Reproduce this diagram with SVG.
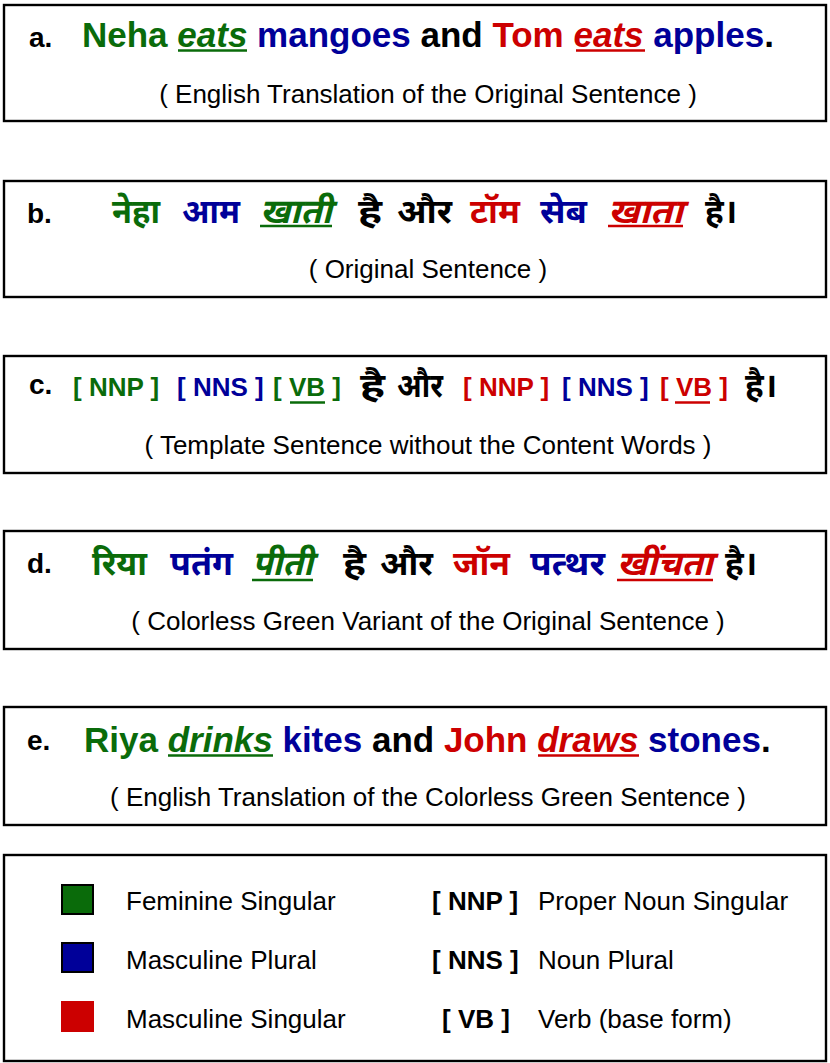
<svg xmlns="http://www.w3.org/2000/svg" width="830" height="1063" viewBox="0 0 830 1063">
<style>
.box{fill:#fff;stroke:#000;stroke-width:2.4}
.lbl{font-family:"Liberation Sans",Arial,sans-serif;font-weight:bold;font-size:28px;fill:#000}
.en{font-family:"Liberation Sans",Arial,sans-serif;font-weight:bold;font-size:35px}
.hi{font-family:"Noto Sans Devanagari","Lohit Devanagari","Noto Sans","DejaVu Sans",sans-serif;font-weight:bold;font-size:34px}
.sub{font-family:"Liberation Sans",Arial,sans-serif;font-size:26px;fill:#000;text-anchor:middle}
.tag{font-family:"Liberation Sans",Arial,sans-serif;font-weight:bold;font-size:26px}
.leg{font-family:"Liberation Sans",Arial,sans-serif;font-size:26px;fill:#000}
.it{font-style:italic}
.g{fill:#0a6b0a}.b{fill:#000099}.r{fill:#cc0000}.k{fill:#000}
.ug{stroke:#0a6b0a;stroke-width:2.5}.ur{stroke:#cc0000;stroke-width:2.5}
</style>

<g id="box-a">
<rect class="box" x="4" y="5" width="822" height="116"/>
<text class="lbl" x="29" y="47">a.</text>
<text class="en" x="82" y="47"><tspan class="g">Neha </tspan><tspan class="g it">eats</tspan><tspan class="b"> mangoes </tspan><tspan class="k">and </tspan><tspan class="r">Tom </tspan><tspan class="r it">eats</tspan><tspan class="b"> apples</tspan><tspan class="k">.</tspan></text>
<line class="ug" x1="178" y1="50.5" x2="247" y2="50.5"/>
<line class="ur" x1="576" y1="50.5" x2="645" y2="50.5"/>
<text class="sub" x="428" y="103">( English Translation of the Original Sentence )</text>
</g>

<g id="box-b">
<rect class="box" x="4" y="181" width="822" height="116"/>
<text class="lbl" x="27" y="223">b.</text>
<text class="hi g" x="112" y="223" textLength="48" lengthAdjust="spacingAndGlyphs">नेहा</text>
<text class="hi b" x="182" y="223" textLength="58" lengthAdjust="spacingAndGlyphs">आम</text>
<text class="hi g it" x="260" y="223" textLength="72" lengthAdjust="spacingAndGlyphs">खाती</text>
<text class="hi k" x="358" y="223" textLength="24" lengthAdjust="spacingAndGlyphs">है</text>
<text class="hi k" x="397" y="223" textLength="55" lengthAdjust="spacingAndGlyphs">और</text>
<text class="hi r" x="470" y="223" textLength="50" lengthAdjust="spacingAndGlyphs">टॉम</text>
<text class="hi b" x="540" y="223" textLength="47" lengthAdjust="spacingAndGlyphs">सेब</text>
<text class="hi r it" x="608" y="223" textLength="75" lengthAdjust="spacingAndGlyphs">खाता</text>
<text class="hi k" x="705" y="223" textLength="32" lengthAdjust="spacingAndGlyphs">है।</text>
<line class="ug" x1="260" y1="226" x2="332" y2="226"/>
<line class="ur" x1="608" y1="226" x2="683" y2="226"/>
<text class="sub" x="428" y="278">( Original Sentence )</text>
</g>

<g id="box-c">
<rect class="box" x="4" y="356" width="822" height="117"/>
<text class="lbl" x="29" y="394">c.</text>
<text class="tag g" x="73" y="396">[ NNP ]</text>
<text class="tag b" x="177" y="396">[ NNS ]</text>
<text class="tag g" x="273" y="396">[ VB ]</text>
<text class="hi k" x="360" y="397" textLength="25" lengthAdjust="spacingAndGlyphs">है</text>
<text class="hi k" x="397" y="397" textLength="46" lengthAdjust="spacingAndGlyphs">और</text>
<text class="tag r" x="463" y="396">[ NNP ]</text>
<text class="tag b" x="562" y="396">[ NNS ]</text>
<text class="tag r" x="660" y="396">[ VB ]</text>
<text class="hi k" x="745" y="397" textLength="32" lengthAdjust="spacingAndGlyphs">है।</text>
<line class="ug" x1="290" y1="402.5" x2="325" y2="402.5"/>
<line class="ur" x1="675" y1="402.5" x2="710" y2="402.5"/>
<text class="sub" x="428" y="454">( Template Sentence without the Content Words )</text>
</g>

<g id="box-d">
<rect class="box" x="4" y="531" width="822" height="118"/>
<text class="lbl" x="27" y="573">d.</text>
<text class="hi g" x="92" y="575" textLength="55" lengthAdjust="spacingAndGlyphs">रिया</text>
<text class="hi b" x="170" y="575" textLength="63" lengthAdjust="spacingAndGlyphs">पतंग</text>
<text class="hi g it" x="252" y="575" textLength="61" lengthAdjust="spacingAndGlyphs">पीती</text>
<text class="hi k" x="343" y="575" textLength="23" lengthAdjust="spacingAndGlyphs">है</text>
<text class="hi k" x="380" y="575" textLength="53" lengthAdjust="spacingAndGlyphs">और</text>
<text class="hi r" x="453" y="575" textLength="57" lengthAdjust="spacingAndGlyphs">जॉन</text>
<text class="hi b" x="530" y="575" textLength="75" lengthAdjust="spacingAndGlyphs">पत्थर</text>
<text class="hi r it" x="617" y="575" textLength="96" lengthAdjust="spacingAndGlyphs">खींचता</text>
<text class="hi k" x="725" y="575" textLength="32" lengthAdjust="spacingAndGlyphs">है।</text>
<line class="ug" x1="252" y1="580" x2="313" y2="580"/>
<line class="ur" x1="617" y1="580" x2="713" y2="580"/>
<text class="sub" x="428" y="630">( Colorless Green Variant of the Original Sentence )</text>
</g>

<g id="box-e">
<rect class="box" x="4" y="707" width="822" height="118"/>
<text class="lbl" x="27" y="750">e.</text>
<text class="en" x="84" y="752"><tspan class="g">Riya </tspan><tspan class="g it">drinks</tspan><tspan class="b"> kites </tspan><tspan class="k">and </tspan><tspan class="r">John </tspan><tspan class="r it">draws</tspan><tspan class="b"> stones</tspan><tspan class="k">.</tspan></text>
<line class="ug" x1="168" y1="755.5" x2="273" y2="755.5"/>
<line class="ur" x1="538" y1="755.5" x2="639" y2="755.5"/>
<text class="sub" x="428" y="806">( English Translation of the Colorless Green Sentence )</text>
</g>

<g id="legend">
<rect class="box" x="4" y="855" width="822" height="206"/>
<rect x="62" y="885" width="31" height="29" fill="#0a6b0a" stroke="#000" stroke-width="2"/>
<rect x="62" y="943" width="31" height="29" fill="#000099" stroke="#000" stroke-width="2"/>
<rect x="61" y="1001" width="33" height="31" fill="#cc0000"/>
<text class="leg" x="126" y="910">Feminine Singular</text>
<text class="leg" x="126" y="969">Masculine Plural</text>
<text class="leg" x="126" y="1028">Masculine Singular</text>
<text class="tag k" x="432" y="910">[ NNP ]</text>
<text class="tag k" x="432" y="969">[ NNS ]</text>
<text class="tag k" x="442" y="1028">[ VB ]</text>
<text class="leg" x="538" y="910">Proper Noun Singular</text>
<text class="leg" x="538" y="969">Noun Plural</text>
<text class="leg" x="538" y="1028">Verb (base form)</text>
</g>
</svg>
